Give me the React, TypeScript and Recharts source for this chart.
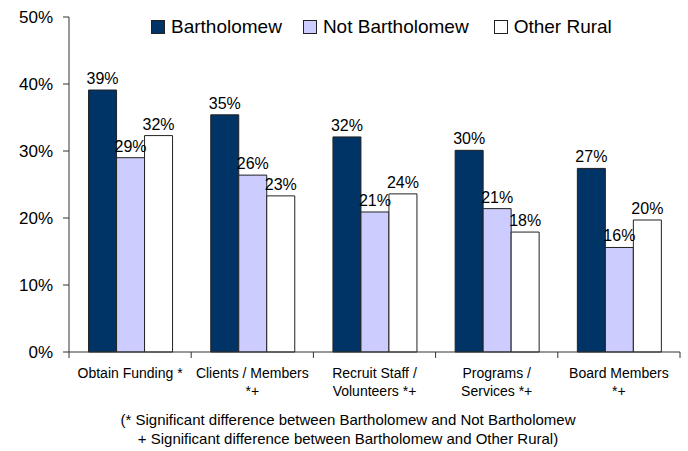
import React from "react";
import { BarChart, Bar, XAxis, YAxis, LabelList } from "recharts";

const categories = [
  "Obtain Funding *",
  "Clients / Members\n*+",
  "Recruit Staff /\nVolunteers *+",
  "Programs /\nServices *+",
  "Board Members\n*+",
];
const bartholomew = [39.1, 35.4, 32.1, 30.1, 27.4];
const notBartholomew = [29.0, 26.4, 20.9, 21.4, 15.6];
const otherRural = [32.3, 23.3, 23.6, 17.9, 19.7];
const yTicks = [0, 10, 20, 30, 40, 50];

const seriesInfo = [
  { key: "bart", label: "Bartholomew", colour: "#003366" },
  { key: "notBart", label: "Not Bartholomew", colour: "#CCCCFF" },
  { key: "other", label: "Other Rural", colour: "#FFFFFF" },
];

const footnote = [
  "(* Significant difference between Bartholomew and Not Bartholomew",
  "+ Significant difference between Bartholomew and Other Rural)",
];

const data = categories.map((name, i) => ({
  name,
  bart: bartholomew[i],
  notBart: notBartholomew[i],
  other: otherRural[i],
}));

const W = 688;
const H = 451;
const margin = { top: 17, right: 8, left: 0, bottom: 39 };
const yAxisWidth = 69;
const xAxisHeight = 60;
const axisY = H - margin.bottom - xAxisHeight;
const band = (W - margin.left - margin.right - yAxisWidth) / categories.length;
const font = "'Liberation Sans', Arial, sans-serif";

function CategoryTick(props: any) {
  const { x, payload, index } = props;
  const lines = String(payload.value).split("\n");
  const left = x - band / 2;
  return (
    <g>
      <line x1={left} x2={left} y1={axisY} y2={axisY + 6} stroke="#333" />
      {index === categories.length - 1 && (
        <line x1={left + band} x2={left + band} y1={axisY} y2={axisY + 6} stroke="#333" />
      )}
      <text x={x} textAnchor="middle" fontSize={14} fill="#000" fontFamily={font}>
        {lines.map((l, i) => (
          <tspan key={i} x={x} y={axisY + 26 + i * 18}>
            {l}
          </tspan>
        ))}
      </text>
    </g>
  );
}

function LegendRow() {
  return (
    <div
      style={{
        position: "absolute",
        top: 16,
        left: 151,
        display: "flex",
        alignItems: "center",
        fontFamily: font,
        fontSize: 19,
        lineHeight: "22px",
      }}
    >
      {seriesInfo.map((s, i) => (
        <div key={s.key} style={{ display: "flex", alignItems: "center", marginRight: i === 0 ? 21 : 25 }}>
          <span
            style={{
              width: 12,
              height: 12,
              background: s.colour,
              border: "1px solid #222",
              marginRight: 6,
              display: "inline-block",
            }}
          />
          <span style={{ color: "#000" }}>{s.label}</span>
        </div>
      ))}
    </div>
  );
}

export default function App() {
  return (
    <div style={{ position: "absolute", left: 0, top: 0, width: W, height: H, background: "#fff" }}>
      <BarChart width={W} height={H} data={data} margin={margin} barCategoryGap="16%" barGap={0}>
        <YAxis
          width={yAxisWidth}
          domain={[0, 50]}
          ticks={yTicks}
          tickFormatter={(v: number) => `${v}%`}
          tick={{ fontSize: 17, fill: "#000", fontFamily: font }}
          tickSize={6}
          tickMargin={10}
          axisLine={{ stroke: "#333" }}
          tickLine={{ stroke: "#333" }}
          interval={0}
        />
        <XAxis
          dataKey="name"
          height={xAxisHeight}
          tick={<CategoryTick />}
          tickLine={false}
          axisLine={{ stroke: "#333" }}
          interval={0}
        />
        {seriesInfo.map((s) => (
          <Bar
            key={s.key}
            dataKey={s.key}
            fill={s.colour}
            stroke="#222"
            strokeWidth={1}
            isAnimationActive={false}
          >
            <LabelList
              dataKey={s.key}
              position="top"
              offset={6}
              formatter={(v: any) => `${Math.round(Number(v))}%`}
              style={{ fontSize: 16, fill: "#000", fontFamily: font }}
            />
          </Bar>
        ))}
      </BarChart>
      <LegendRow />
      <div
        style={{
          position: "absolute",
          left: 0,
          width: 696,
          top: 410,
          textAlign: "center",
          fontFamily: font,
          fontSize: 15,
          lineHeight: "19px",
          color: "#000",
        }}
      >
        {footnote.map((l, i) => (
          <div key={i}>{l}</div>
        ))}
      </div>
    </div>
  );
}
